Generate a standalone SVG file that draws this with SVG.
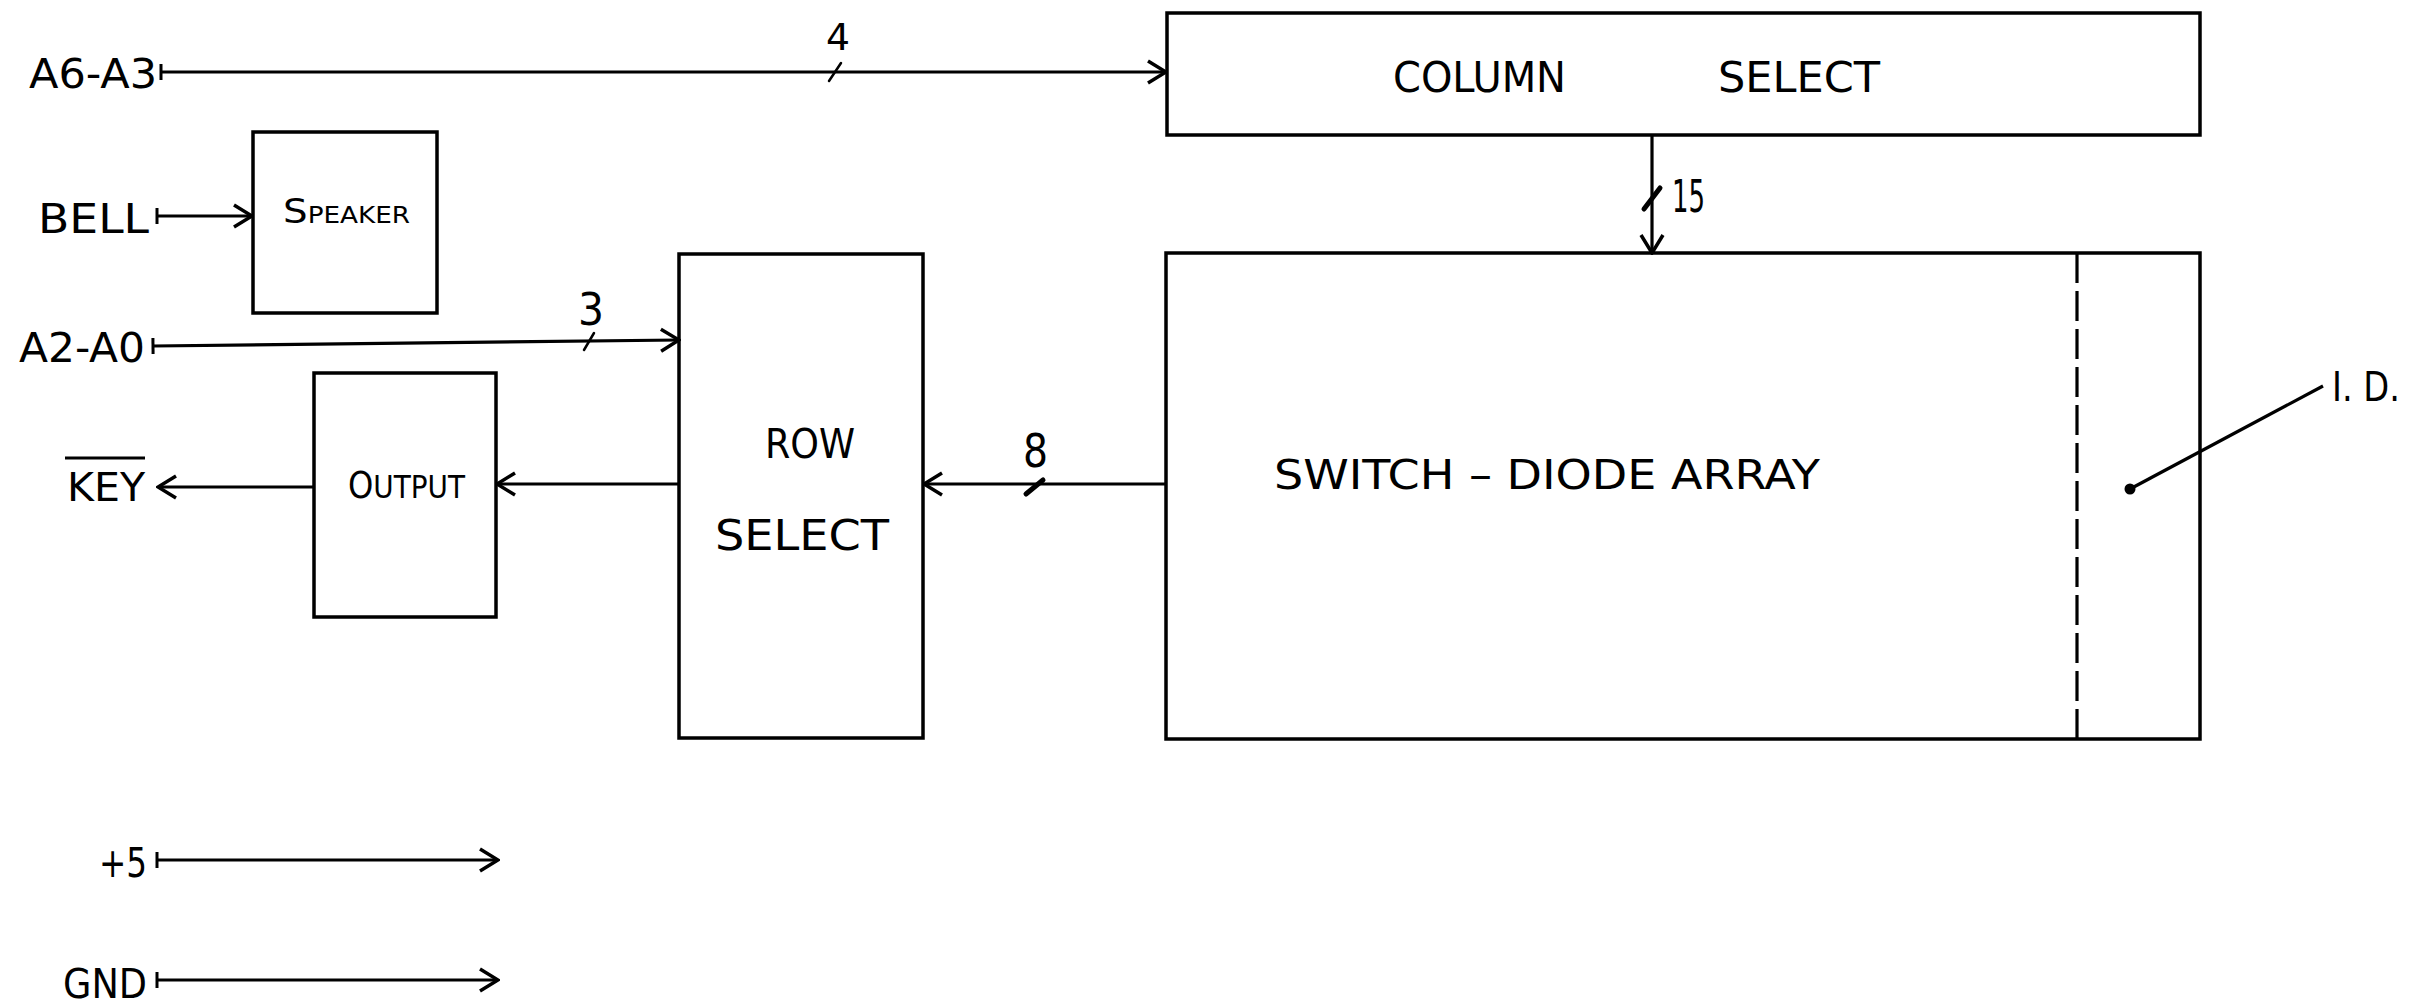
<svg xmlns="http://www.w3.org/2000/svg" width="2432" height="1005" viewBox="0 0 2432 1005">
<style>
.box{fill:#fff;stroke:#000;stroke-width:3.5}
.ln{fill:none;stroke:#000;stroke-width:3.2}
.sl{fill:none;stroke:#000;stroke-width:2.5;stroke-linecap:round}
.slb{fill:none;stroke:#000;stroke-width:5;stroke-linecap:round}
.t{font-family:"DejaVu Sans Condensed","DejaVu Sans",sans-serif;fill:#000}
</style>
<defs>
<marker id="arr" viewBox="-22 -14 24 28" markerWidth="24" markerHeight="28" refX="0" refY="0" orient="auto" markerUnits="userSpaceOnUse">
<path d="M-18,-11 L0,0 L-18,11" fill="none" stroke="#000" stroke-width="3.5"/>
</marker>
<marker id="tick" viewBox="-4 -10 8 20" markerWidth="8" markerHeight="20" refX="0" refY="0" orient="auto" markerUnits="userSpaceOnUse">
<path d="M0,-8 L0,8" fill="none" stroke="#000" stroke-width="3"/>
</marker>
</defs>
<rect width="2432" height="1005" fill="#fff"/>

<g id="column-select">
<rect class="box" x="1167" y="13" width="1033" height="122"/>
<text class="t" x="1393" y="92" font-size="43" textLength="173" lengthAdjust="spacingAndGlyphs">COLUMN</text>
<text class="t" x="1718" y="92" font-size="43" textLength="162" lengthAdjust="spacingAndGlyphs">SELECT</text>
</g>

<g id="speaker">
<rect class="box" x="253" y="132" width="184" height="181"/>
<text class="t" x="283" y="223" textLength="127" lengthAdjust="spacingAndGlyphs"><tspan font-size="34">S</tspan><tspan font-size="23">PEAKER</tspan></text>
</g>

<g id="row-select">
<rect class="box" x="679" y="254" width="244" height="484"/>
<text class="t" x="765" y="458" font-size="40" textLength="90" lengthAdjust="spacingAndGlyphs">ROW</text>
<text class="t" x="715" y="550" font-size="42" textLength="174" lengthAdjust="spacingAndGlyphs">SELECT</text>
</g>

<g id="output">
<rect class="box" x="314" y="373" width="182" height="244"/>
<text class="t" x="348" y="498" textLength="117" lengthAdjust="spacingAndGlyphs"><tspan font-size="37">O</tspan><tspan font-size="32">UTPUT</tspan></text>
</g>

<g id="switch-diode-array">
<rect class="box" x="1166" y="253" width="1034" height="486"/>
<path class="ln" d="M2077,253 L2077,739" stroke-dasharray="30 8"/>
<text class="t" x="1274" y="489" font-size="41" textLength="546" lengthAdjust="spacingAndGlyphs">SWITCH – DIODE  ARRAY</text>
</g>

<g id="connectors">
<path class="ln" d="M161,72 L1166,72" marker-start="url(#tick)" marker-end="url(#arr)"/>
<path class="sl" d="M829,81 L841,63"/>
<path class="ln" d="M157,216 L252,216" marker-start="url(#tick)" marker-end="url(#arr)"/>
<path class="ln" d="M153,346 L679,340" marker-start="url(#tick)" marker-end="url(#arr)"/>
<path class="sl" d="M584,350 L594,333"/>
<path class="ln" d="M314,487 L158,487" marker-end="url(#arr)"/>
<path class="ln" d="M679,484 L497,484" marker-end="url(#arr)"/>
<path class="ln" d="M1166,484 L924,484" marker-end="url(#arr)"/>
<path class="slb" d="M1026,494 L1043,480"/>
<path class="ln" d="M1652,135 L1652,253" marker-end="url(#arr)"/>
<path class="slb" d="M1644,209 L1660,188"/>
<path class="ln" d="M157,860 L498,860" marker-start="url(#tick)" marker-end="url(#arr)"/>
<path class="ln" d="M157,980 L498,980" marker-start="url(#tick)" marker-end="url(#arr)"/>
<path class="ln" d="M2323,386 L2130,489" stroke-width="2.5"/>
<circle cx="2130" cy="489" r="5.5" fill="#000"/>
</g>

<g id="labels">
<text class="t" x="29" y="88" font-size="40" textLength="128" lengthAdjust="spacingAndGlyphs">A6-A3</text>
<text class="t" x="38" y="233" font-size="41" textLength="111" lengthAdjust="spacingAndGlyphs">BELL</text>
<text class="t" x="19" y="362" font-size="40" textLength="126" lengthAdjust="spacingAndGlyphs">A2-A0</text>
<text class="t" x="67" y="501" font-size="39" textLength="78" lengthAdjust="spacingAndGlyphs">KEY</text>
<path class="ln" d="M65,458 L145,458" stroke-width="2.5"/>
<text class="t" x="99" y="877" font-size="40" textLength="48" lengthAdjust="spacingAndGlyphs">+5</text>
<text class="t" x="63" y="998" font-size="41" textLength="84" lengthAdjust="spacingAndGlyphs">GND</text>
<text class="t" x="826" y="50" font-size="37" textLength="24" lengthAdjust="spacingAndGlyphs">4</text>
<text class="t" x="578" y="325" font-size="44" textLength="26" lengthAdjust="spacingAndGlyphs">3</text>
<text class="t" x="1023" y="467" font-size="46" textLength="25" lengthAdjust="spacingAndGlyphs">8</text>
<text class="t" x="1672" y="212" font-size="44" textLength="33" lengthAdjust="spacingAndGlyphs">15</text>
<text class="t" x="2332" y="401" font-size="40" textLength="68" lengthAdjust="spacingAndGlyphs">I. D.</text>
</g>
</svg>
